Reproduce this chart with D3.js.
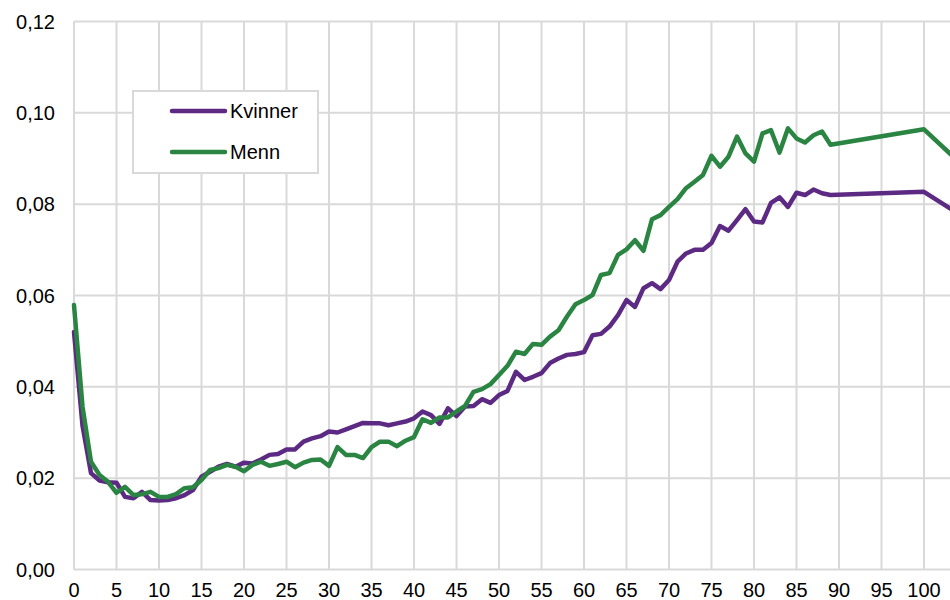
<!DOCTYPE html>
<html>
<head>
<meta charset="utf-8">
<script src="https://cdn.jsdelivr.net/npm/d3@7"></script>
<style>
  body { margin: 0; background: #fff; }
  svg { display: block; font-family: "Liberation Sans", Arial, sans-serif; }
</style>
</head>
<body>
<svg width="950" height="600"></svg>
<script>
const width = 950;
const height = 600;

// age (years); 89 -> 100 is drawn as one straight segment in the original
const ages = [
  0, 1, 2, 3, 4, 5, 6, 7, 8, 9,
  10, 11, 12, 13, 14, 15, 16, 17, 18, 19,
  20, 21, 22, 23, 24, 25, 26, 27, 28, 29,
  30, 31, 32, 33, 34, 35, 36, 37, 38, 39,
  40, 41, 42, 43, 44, 45, 46, 47, 48, 49,
  50, 51, 52, 53, 54, 55, 56, 57, 58, 59,
  60, 61, 62, 63, 64, 65, 66, 67, 68, 69,
  70, 71, 72, 73, 74, 75, 76, 77, 78, 79,
  80, 81, 82, 83, 84, 85, 86, 87, 88, 89,
  100, 105
];

const kvinner = [
  0.0520, 0.0315, 0.0211, 0.0195, 0.0191, 0.0190, 0.0159, 0.0156, 0.0170, 0.0152,
  0.0151, 0.0152, 0.0156, 0.0163, 0.0174, 0.0203, 0.0214, 0.0225, 0.0231, 0.0225,
  0.0234, 0.0232, 0.0241, 0.0251, 0.0253, 0.0263, 0.0263, 0.0280, 0.0287, 0.0292,
  0.0302, 0.0300, 0.0307, 0.0314, 0.0321, 0.0320, 0.0320, 0.0316, 0.0320, 0.0324,
  0.0331, 0.0346, 0.0338, 0.0319, 0.0353, 0.0336, 0.0357, 0.0358, 0.0373, 0.0365,
  0.0382, 0.0391, 0.0433, 0.0415, 0.0422, 0.0430, 0.0452, 0.0462, 0.0470, 0.0472,
  0.0476, 0.0513, 0.0516, 0.0532, 0.0557, 0.0590, 0.0575, 0.0616, 0.0627, 0.0614,
  0.0634, 0.0674, 0.0692, 0.0700, 0.0700, 0.0715, 0.0752, 0.0742, 0.0765, 0.0789,
  0.0762, 0.0760, 0.0803, 0.0815, 0.0794, 0.0825, 0.0820, 0.0832, 0.0824, 0.0820,
  0.0827, 0.0768
];

const menn = [
  0.0579, 0.0357, 0.0236, 0.0207, 0.0192, 0.0168, 0.0181, 0.0163, 0.0165, 0.0170,
  0.0159, 0.0159, 0.0165, 0.0178, 0.0180, 0.0196, 0.0218, 0.0222, 0.0229, 0.0225,
  0.0215, 0.0229, 0.0236, 0.0227, 0.0231, 0.0236, 0.0224, 0.0234, 0.0240, 0.0241,
  0.0227, 0.0268, 0.0251, 0.0251, 0.0244, 0.0268, 0.0280, 0.0280, 0.0270, 0.0282,
  0.0290, 0.0329, 0.0321, 0.0333, 0.0333, 0.0346, 0.0358, 0.0389, 0.0395, 0.0406,
  0.0426, 0.0446, 0.0477, 0.0472, 0.0494, 0.0492, 0.0510, 0.0524, 0.0554, 0.0581,
  0.0590, 0.0601, 0.0645, 0.0649, 0.0689, 0.0701, 0.0721, 0.0698, 0.0767, 0.0776,
  0.0794, 0.0811, 0.0835, 0.0849, 0.0864, 0.0906, 0.0882, 0.0904, 0.0948, 0.0911,
  0.0893, 0.0955, 0.0962, 0.0913, 0.0966, 0.0944, 0.0935, 0.0951, 0.0959, 0.0930,
  0.0964, 0.0877
];

const xTicks = d3.range(0, 101, 5);
const yTicks = [0, 0.02, 0.04, 0.06, 0.08, 0.10, 0.12];
const seriesNames = ["Kvinner", "Menn"];
const colors = ["#5c2a82", "#2a8442"];

const x = d3.scaleLinear().domain([0, 105]).range([74, 966.5]);
const y = d3.scaleLinear().domain([0, 0.12]).range([569.5, 21.5]);

const svg = d3.select("svg");
const fmt = d => d3.format(".2f")(d).replace(".", ",");

// grid
const grid = svg.append("g")
    .attr("stroke", "#d9d9d9")
    .attr("stroke-width", 2);

grid.selectAll("line.v")
  .data(xTicks)
  .join("line")
    .attr("class", "v")
    .attr("x1", d => x(d))
    .attr("x2", d => x(d))
    .attr("y1", y(0.12))
    .attr("y2", y(0));

grid.selectAll("line.h")
  .data(yTicks)
  .join("line")
    .attr("class", "h")
    .attr("x1", x(0))
    .attr("x2", width)
    .attr("y1", d => y(d))
    .attr("y2", d => y(d));

// tick labels
svg.append("g")
    .attr("font-size", 20)
    .attr("fill", "#000")
    .attr("text-anchor", "end")
  .selectAll("text")
  .data(yTicks)
  .join("text")
    .attr("x", 55)
    .attr("y", d => y(d))
    .attr("dy", "0.35em")
    .text(fmt);

svg.append("g")
    .attr("font-size", 20)
    .attr("fill", "#000")
    .attr("text-anchor", "middle")
  .selectAll("text")
  .data(xTicks)
  .join("text")
    .attr("x", d => x(d))
    .attr("y", 597)
    .text(d => d);

// lines
const line = d3.line()
    .x(d => x(d[0]))
    .y(d => y(d[1]));

const series = [kvinner, menn].map(vals => ages.map((a, i) => [a, vals[i]]));

svg.append("g")
    .attr("fill", "none")
    .attr("stroke-width", 4.5)
    .attr("stroke-linejoin", "round")
    .attr("stroke-linecap", "round")
  .selectAll("path")
  .data(series)
  .join("path")
    .attr("stroke", (d, i) => colors[i])
    .attr("d", line);

// legend
const legend = svg.append("g");
legend.append("rect")
    .attr("x", 133)
    .attr("y", 91)
    .attr("width", 185)
    .attr("height", 82)
    .attr("fill", "#fff")
    .attr("stroke", "#d9d9d9")
    .attr("stroke-width", 2);

const item = legend.selectAll("g")
  .data(seriesNames)
  .join("g")
    .attr("transform", (d, i) => `translate(0, ${111 + i * 41})`);

item.append("line")
    .attr("x1", 172)
    .attr("x2", 225)
    .attr("stroke", (d, i) => colors[i])
    .attr("stroke-width", 4.5)
    .attr("stroke-linecap", "round");

item.append("text")
    .attr("x", 230)
    .attr("dy", "0.35em")
    .attr("font-size", 20)
    .text(d => d);
</script>
</body>
</html>
